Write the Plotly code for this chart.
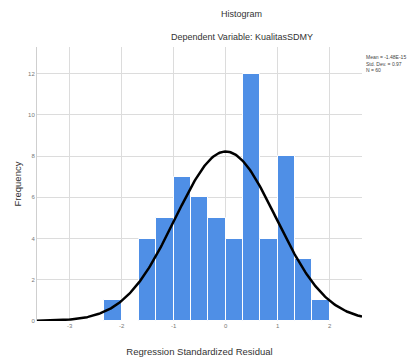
import numpy as np
import plotly.graph_objects as go

# Data
bin_left_edges = [-7/3, -2.0, -5/3, -4/3, -1.0, -2/3, -1/3, 0.0, 1/3, 2/3, 1.0, 4/3, 5/3]
counts = [1, 0, 4, 5, 7, 6, 5, 4, 12, 4, 8, 3, 1]
bin_width = 1/3
mean_val = 0.0
std_val = 0.97
n_val = 60
x_ticks = [-3, -2, -1, 0, 1, 2]
y_ticks = [0, 2, 4, 6, 8, 10, 12]

centers = [e + bin_width/2 for e in bin_left_edges]
xr = [-3.63, 2.62]
xs = np.linspace(xr[0], xr[1], 300)
ys = n_val * bin_width * np.exp(-0.5*((xs-mean_val)/std_val)**2) / (std_val*np.sqrt(2*np.pi))

fig = go.Figure()
fig.add_trace(go.Bar(x=centers, y=counts, width=bin_width,
                     marker=dict(color="#4f8fe6", line=dict(color="white", width=1)),
                     showlegend=False))
fig.add_trace(go.Scatter(x=xs, y=ys, mode="lines",
                         line=dict(color="black", width=2.5), showlegend=False))

font = "Liberation Sans, Arial, sans-serif"
fig.update_layout(
    width=411, height=358,
    margin=dict(l=37, r=49, t=47, b=37),
    paper_bgcolor="white", plot_bgcolor="white",
    bargap=0,
    font=dict(family=font, color="#333"),
    xaxis=dict(range=xr, tickvals=x_ticks, ticktext=[str(v) for v in x_ticks],
               showgrid=True, gridcolor="#dcdcdc", gridwidth=1, automargin=False,
               zeroline=False, showline=False,
               tickfont=dict(size=6, color="#777"), ticks="",
               title=dict(text="Regression Standardized Residual",
                          font=dict(size=9.5, color="#333"), standoff=20)),
    yaxis=dict(range=[0, 13.3], tickvals=y_ticks, ticktext=[str(v) for v in y_ticks],
               showgrid=True, gridcolor="#dcdcdc", gridwidth=1, automargin=False,
               zeroline=False, showline=True, linecolor="#cfcfcf", linewidth=1,
               tickfont=dict(size=6, color="#777"), ticks="",
               title=dict(text="Frequency", font=dict(size=9.5, color="#333"), standoff=4)),
    annotations=[
        dict(text="Histogram", x=0.63, y=1.0, xref="paper", yref="paper",
             xanchor="center", yanchor="middle", yshift=33, showarrow=False,
             font=dict(size=9, color="#333")),
        dict(text="Dependent Variable: KualitasSDMY", x=0.63, y=1.0, xref="paper", yref="paper",
             xanchor="center", yanchor="middle", yshift=10, showarrow=False,
             font=dict(size=9, color="#333")),
        dict(text=f"Mean = -1.48E-15<br>Std. Dev. = {std_val}<br>N = {n_val}",
             x=1.0, y=0.94, xref="paper", yref="paper", xanchor="left", yanchor="middle",
             xshift=2, showarrow=False, align="left",
             font=dict(size=5, color="#444")),
    ],
)
fig.write_html("out.html", config={"displayModeBar": False},
               post_script="document.body.style.margin='0';")
